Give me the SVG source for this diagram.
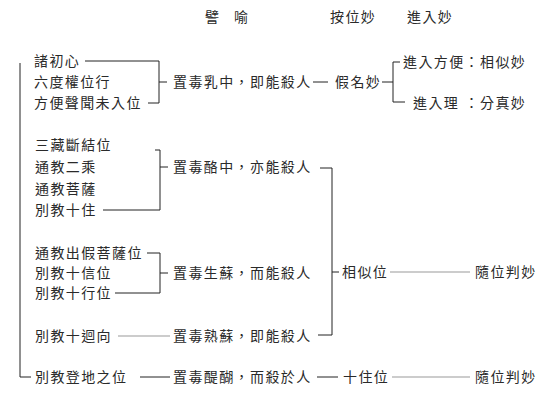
<svg xmlns="http://www.w3.org/2000/svg" width="557" height="409" viewBox="0 0 557 409">
<style>
  text { font-family: "Noto Sans CJK TC", "Noto Sans CJK SC", sans-serif; font-size: 14px; letter-spacing: 1.4px; fill: #2a2a2a; }
  .ln { fill: none; stroke: #222; stroke-width: 1; }
  .lt { fill: none; stroke: #999; stroke-width: 1; }
</style>
<rect width="557" height="409" fill="#ffffff"/>
<g id="header">
  <text x="205" y="22">譬</text>
  <text x="234" y="22">喻</text>
  <text x="330" y="22">按位妙</text>
  <text x="407" y="22">進入妙</text>
</g>
<g id="connectors">
  <path class="ln" d="M20,63 V377 H31"/>
  <path class="ln" d="M85,61 H159 V103 H148 M159,82 H167"/>
  <path class="ln" d="M313,82 H328 M382,82 H393 M400,62 H393 V102 H405"/>
  <path class="ln" d="M155,150 H160 V210 H103 M160,167 H168"/>
  <path class="ln" d="M320,168 H332 V335 H318 M332,272 H339"/>
  <path class="lt" d="M390,272 H470"/>
  <path class="ln" d="M147,253 H160 V293 H115 M160,273 H168"/>
  <path class="lt" d="M118,336 H170"/>
  <path class="ln" d="M140,377 H170 M317,377 H338"/>
  <path class="lt" d="M392,377 H470"/>
</g>
<g id="group1">
  <g id="n-zhuchuxin"><text x="34" y="66">諸初心</text></g>
  <g id="n-liudu"><text x="34" y="87">六度權位行</text></g>
  <g id="n-fangbian"><text x="34" y="108">方便聲聞未入位</text></g>
</g>
<g id="p-ru"><text x="173" y="87">置毒乳中，即能殺人</text></g>
<g id="m-jiaming"><text x="335" y="87">假名妙</text></g>
<g id="r-fangbian"><text x="403" y="67">進入方便：相似妙</text></g>
<g id="r-li"><text x="413" y="108">進入理</text><text x="464.6" y="108">：分真妙</text></g>
<g id="group2">
  <g id="n-sanzang"><text x="35" y="150">三藏斷結位</text></g>
  <g id="n-tongersheng"><text x="35" y="172">通教二乘</text></g>
  <g id="n-tongpusa"><text x="35" y="194">通教菩薩</text></g>
  <g id="n-bieshizhu"><text x="35" y="215">別教十住</text></g>
</g>
<g id="p-lao"><text x="173" y="172">置毒酪中，亦能殺人</text></g>
<g id="group3">
  <g id="n-tongchujia"><text x="35" y="258">通教出假菩薩位</text></g>
  <g id="n-bieshixin"><text x="35" y="278">別教十信位</text></g>
  <g id="n-bieshixing"><text x="35" y="298">別教十行位</text></g>
</g>
<g id="p-shengsu"><text x="173" y="278">置毒生蘇，而能殺人</text></g>
<g id="n-bieshihuixiang"><text x="35" y="341">別教十迴向</text></g>
<g id="p-shusu"><text x="173" y="341">置毒熟蘇，即能殺人</text></g>
<g id="n-bieshidengdi"><text x="35" y="382">別教登地之位</text></g>
<g id="p-tihu"><text x="173" y="382">置毒醍醐，而殺於人</text></g>
<g id="m-xiangsi"><text x="342" y="277">相似位</text></g>
<g id="m-shizhu"><text x="343" y="382">十住位</text></g>
<g id="r-suiwei1"><text x="475" y="277">隨位判妙</text></g>
<g id="r-suiwei2"><text x="475" y="382">隨位判妙</text></g>
</svg>
